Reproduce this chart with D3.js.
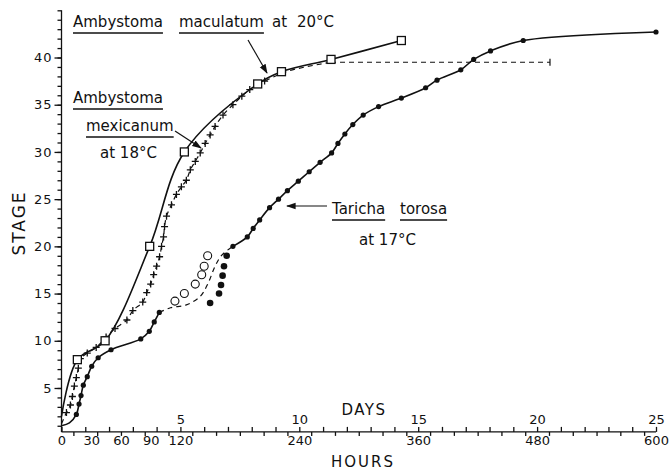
<!DOCTYPE html>
<html>
<head>
<meta charset="utf-8">
<script src="https://cdn.jsdelivr.net/npm/d3@7/dist/d3.min.js"></script>
<style>
  body { margin: 0; background: #fff; }
  text { font-family: "DejaVu Sans", sans-serif; fill: #111; }
</style>
</head>
<body>
<div id="stageChart"></div>
<script>
/*******************************************************************************
*** DATA ***********************************************************************
*******************************************************************************/

/* Ambystoma maculatum at 20C, squares on a solid line */
const macHours = [0, 16, 44, 89, 124, 198, 222, 272, 343];
const macStage = [2, 8, 10, 20, 30, 37.2, 38.5, 39.8, 41.8];

/* Ambystoma mexicanum at 18C, pluses on a dashed line */
const mexHours = [0, 5, 9, 11, 13, 15, 17, 19, 26, 35, 45, 54, 66, 72, 82, 86, 90, 93, 96, 99,
                  101, 103, 104, 106, 111, 116, 121, 126, 130, 135, 140, 145, 150, 155, 163,
                  173, 182, 190, 205, 230, 272];
const mexStage = [1.2, 2.4, 3.2, 4.1, 5.2, 6.1, 7.1, 8.1, 8.7, 9.3, 10.4, 11.3, 12.2, 13.2, 14.1,
                  15.1, 16, 17, 17.9, 18.9, 20, 21, 22.1, 23.2, 24.4, 25.5, 26.3, 27, 28.1, 29,
                  29.9, 30.9, 31.8, 32.7, 33.9, 35, 35.9, 36.6, 37.5, 38.6, 39.5];
const mexPlateauHours = [272, 493];
const mexPlateauStage = [39.5, 39.5];

/* Taricha torosa at 17C, dots on a solid line, with a dashed gap */
const tarLowHours = [0, 8, 15, 17.7, 19.7, 22, 26, 30.5, 37, 50, 80, 88.6, 93.6, 98.7];
const tarLowStage = [1, 1.3, 2.2, 3.3, 4.2, 5.3, 6.2, 7.3, 8.2, 9.05, 10.2, 11, 12, 13];
const tarGapHours = [98.7, 110, 126, 140, 148, 155, 162, 173];
const tarGapStage = [13, 13.5, 13.8, 14.7, 16.1, 17.9, 19.1, 20];
const tarHighHours = [173, 187.5, 193.5, 200, 210, 219, 228, 239, 250, 261, 272.6, 279, 286, 294,
                      304.5, 320, 343, 367.5, 379, 403, 416, 433, 466, 600];
const tarHighStage = [20, 21, 21.9, 22.8, 24.1, 25, 25.9, 26.9, 27.9, 28.9, 29.9, 30.9, 31.9,
                      32.9, 33.9, 34.8, 35.7, 36.8, 37.6, 38.7, 39.8, 40.7, 41.8, 42.7];
const openCircleHours = [114.5, 124, 135, 141.5, 144, 147.5];
const openCircleStage = [14.2, 15, 16, 17, 17.9, 19];
const loneDotHours = [150, 159, 161, 162.6, 164, 166.7];
const loneDotStage = [14, 15, 15.9, 16.9, 17.9, 19];

/* axis ticks */
const hourLabels = [0, 30, 60, 90, 120, 240, 360, 480, 600];
const stageLabels = [5, 10, 15, 20, 25, 30, 35, 40];


/*******************************************************************************
*** CHART **********************************************************************
*******************************************************************************/

function zipPts(hs, ss) { return hs.map((h, i) => ({h: h, s: ss[i]})); }

let width = 672, height = 472;

let svg = d3.select("#stageChart")
            .append("svg")
            .attr("width", width)
            .attr("height", height);

svg.append("rect").attr("width", width).attr("height", height).attr("fill", "#fff");

let defs = svg.append("defs");
defs.append("marker")
    .attr("id", "arrow")
    .attr("viewBox", "0 0 10 10")
    .attr("refX", 9).attr("refY", 5)
    .attr("markerWidth", 8).attr("markerHeight", 8)
    .attr("orient", "auto")
    .append("path")
    .attr("d", "M0,1.5 L10,5 L0,8.5 Z")
    .attr("fill", "#111");

let x = d3.scaleLinear().domain([0, 600]).range([61.5, 656]);
let y = d3.scaleLinear().domain([0, 45]).range([435.2, 10.3]);
let xAxisY = y(0.35);

/* y axis */
let yG = svg.append("g").attr("transform", "translate(" + x(0) + ",0)");
yG.append("line")
  .attr("y1", xAxisY).attr("y2", y(45))
  .attr("stroke", "#111").attr("stroke-width", 1.8);
yG.append("g")
  .call(d3.axisLeft(y).tickValues(d3.range(1, 46)).tickSize(4).tickFormat(""))
  .call(g => g.select(".domain").remove());
yG.append("g")
  .call(d3.axisLeft(y).tickValues(stageLabels).tickSize(7).tickPadding(2))
  .call(g => g.select(".domain").remove())
  .selectAll("text")
  .style("font-size", "13px")
  .style("letter-spacing", "1px");
yG.selectAll("line").attr("stroke", "#111").attr("stroke-width", 1.3);

/* x axis */
let xG = svg.append("g").attr("transform", "translate(0," + xAxisY + ")");
xG.append("line")
  .attr("x1", x(0)).attr("x2", x(600))
  .attr("stroke", "#111").attr("stroke-width", 1.8);
xG.append("g")
  .call(d3.axisTop(x).tickValues(d3.range(0, 601, 24)).tickSize(5).tickPadding(3)
        .tickFormat(d => (d > 0 && d % 120 === 0) ? d / 24 : ""))
  .call(g => g.select(".domain").remove())
  .selectAll("text").style("font-size", "13px");
xG.append("g")
  .call(d3.axisBottom(x).tickValues(d3.range(12, 600, 24)).tickSize(4).tickFormat(""))
  .call(g => g.select(".domain").remove());
xG.append("g")
  .call(d3.axisBottom(x).tickValues(hourLabels).tickSize(0).tickPadding(4))
  .call(g => g.select(".domain").remove())
  .selectAll("text").style("font-size", "13px");
xG.selectAll("line").attr("stroke", "#111").attr("stroke-width", 1.3);
svg.selectAll(".tick text").attr("fill", "#111");

/* axis titles */
svg.append("text")
   .attr("transform", "translate(25,223) rotate(-90)")
   .attr("text-anchor", "middle")
   .style("font-size", "17px")
   .style("letter-spacing", "2px")
   .text("STAGE");
svg.append("text").attr("x", 364).attr("y", 415).attr("text-anchor", "middle")
   .style("font-size", "15px").style("letter-spacing", "1.5px").text("DAYS");
svg.append("text").attr("x", 363).attr("y", 467).attr("text-anchor", "middle")
   .style("font-size", "15px").style("letter-spacing", "2px").text("HOURS");

/* curves */
let line = d3.line()
             .x(d => x(d.h))
             .y(d => y(d.s))
             .curve(d3.curveMonotoneX);
let smoothLine = d3.line()
                   .x(d => x(d.h))
                   .y(d => y(d.s))
                   .curve(d3.curveCatmullRom.alpha(0.5));

function drawPath(pts, dashed, gen) {
  svg.append("path")
     .attr("d", (gen || line)(pts))
     .attr("fill", "none")
     .attr("stroke", "#111")
     .attr("stroke-width", dashed ? 1.2 : 1.6)
     .attr("stroke-dasharray", dashed ? "5,4" : null);
}

let macPts = zipPts(macHours, macStage);
let mexPts = zipPts(mexHours, mexStage);
let tarLow = zipPts(tarLowHours, tarLowStage);
let tarHigh = zipPts(tarHighHours, tarHighStage);

drawPath(mexPts, true, smoothLine);
drawPath(zipPts(mexPlateauHours, mexPlateauStage), true);
drawPath(zipPts(tarGapHours, tarGapStage), true, smoothLine);
drawPath(macPts, false, smoothLine);
drawPath(tarLow, false, smoothLine);
drawPath(tarHigh, false, smoothLine);

/* end bar of the mexicanum plateau */
svg.append("line")
   .attr("x1", x(mexPlateauHours[1])).attr("x2", x(mexPlateauHours[1]))
   .attr("y1", y(mexPlateauStage[1]) - 3.5).attr("y2", y(mexPlateauStage[1]) + 3.5)
   .attr("stroke", "#111").attr("stroke-width", 1.2);

/* markers */
svg.selectAll("g.plus")
   .data(mexPts.filter(d => d.h > 0 && d.h < 220))
   .enter().append("path")
   .attr("d", d => {
     let cx = x(d.h), cy = y(d.s);
     return "M" + (cx - 3.5) + "," + cy + "H" + (cx + 3.5) + "M" + cx + "," + (cy - 3.5) + "V" + (cy + 3.5);
   })
   .attr("stroke", "#111").attr("stroke-width", 1.3);

svg.selectAll("rect.sq")
   .data(macPts.filter(d => d.h > 0))
   .enter().append("rect")
   .attr("x", d => x(d.h) - 4).attr("y", d => y(d.s) - 4)
   .attr("width", 8).attr("height", 8)
   .attr("fill", "#fff").attr("stroke", "#111").attr("stroke-width", 1.3);

svg.selectAll("circle.tdot")
   .data(tarLow.filter(d => d.h >= 15).concat(tarHigh))
   .enter().append("circle")
   .attr("cx", d => x(d.h)).attr("cy", d => y(d.s)).attr("r", 2.6)
   .attr("fill", "#111");

svg.selectAll("circle.open")
   .data(zipPts(openCircleHours, openCircleStage))
   .enter().append("circle")
   .attr("cx", d => x(d.h)).attr("cy", d => y(d.s)).attr("r", 4)
   .attr("fill", "#fff").attr("stroke", "#111").attr("stroke-width", 1.1);

svg.selectAll("circle.lone")
   .data(zipPts(loneDotHours, loneDotStage))
   .enter().append("circle")
   .attr("cx", d => x(d.h)).attr("cy", d => y(d.s)).attr("r", 3.3)
   .attr("fill", "#111");

/* labels with underlines and arrows */
function label(str, lx, ly, ul) {
  let t = svg.append("text").attr("x", lx).attr("y", ly).style("font-size", "15px").text(str);
  if (ul) {
    let w = t.node().getComputedTextLength();
    svg.append("line")
       .attr("x1", lx).attr("x2", lx + w)
       .attr("y1", ly + 6).attr("y2", ly + 6)
       .attr("stroke", "#111").attr("stroke-width", 1.3);
  }
}

label("Ambystoma", 73, 27, true);
label("maculatum", 179, 27, true);
label("at", 272, 27, false);
label("20°C", 297, 27, false);
label("Ambystoma", 73, 103, true);
label("mexicanum", 86, 131, true);
label("at 18°C", 100, 158, false);
label("Taricha", 332, 214, true);
label("torosa", 400, 214, true);
label("at 17°C", 359, 245, false);

function arrow(x1, y1, x2, y2) {
  svg.append("line")
     .attr("x1", x1).attr("y1", y1).attr("x2", x2).attr("y2", y2)
     .attr("stroke", "#111").attr("stroke-width", 1.2)
     .attr("marker-end", "url(#arrow)");
}
arrow(248, 40, 267, 73);
arrow(175, 131, 201, 148);
arrow(327, 206, 287, 206);
</script>
</body>
</html>
